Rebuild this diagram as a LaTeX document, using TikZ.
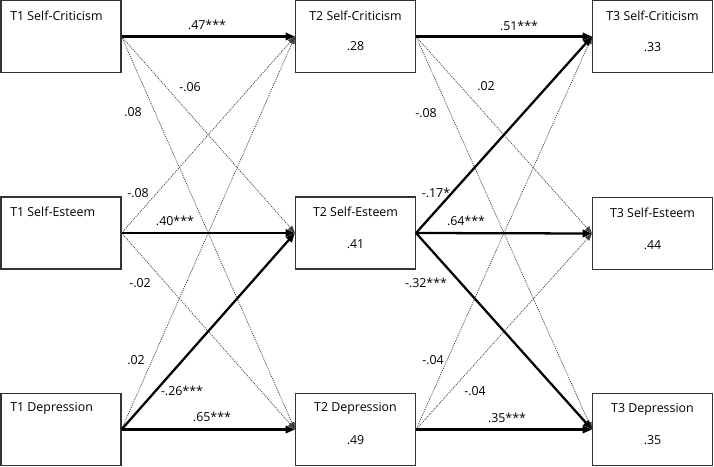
\documentclass[tikz,border=0pt]{standalone}
\usepackage{fontspec}
\setmainfont{Open Sans}
\usetikzlibrary{arrows.meta}

\tikzset{
  box/.style={draw=black!80, line width=0.8pt, minimum width=90pt, minimum height=54pt, inner sep=0pt},
  txt/.style={inner sep=0.75pt, font=\fontsize{9.3}{11}\selectfont},
  strong/.style={line width=1.7pt, -{Triangle[length=7pt,width=5.5pt]}},
  weak/.style={draw=black!75, line width=0.55pt, dash pattern=on 0.8pt off 0.8pt, -{Triangle[length=5.5pt,width=4pt]}}
}

\begin{document}
\begin{tikzpicture}[x=0.75pt,y=0.75pt,yscale=-1,xscale=1]
\useasboundingbox (0,0) rectangle (714,467);
% boxes
\node[box] (sc1) at (61,36.5) {};
\node[box] (se1) at (61,233) {};
\node[box] (dep1) at (61,429.5) {};
\node[box] (sc2) at (355.5,36.5) {};
\node[box] (se2) at (355.5,233) {};
\node[box] (dep2) at (355.5,429.5) {};
\node[box] (sc3) at (652.5,36.5) {};
\node[box] (se3) at (652.5,233.5) {};
\node[box] (dep3) at (652.5,429.5) {};
% box texts
\node[txt, anchor=west] (sc1t) at (9,16) {T1 Self-Criticism};
\node[txt, anchor=west] (se1t) at (9,212) {T1 Self-Esteem};
\node[txt, anchor=west] (dep1t) at (9,408) {T1 Depression};
\node[txt] (sc2t) at (355.5,16) {T2 Self-Criticism};
\node[txt] (sc2v) at (355.5,46) {.28};
\node[txt] (se2t) at (355.5,212) {T2 Self-Esteem};
\node[txt] (se2v) at (355.5,244) {.41};
\node[txt] (dep2t) at (355.5,408) {T2 Depression};
\node[txt] (dep2v) at (355.5,440) {.49};
\node[txt] (sc3t) at (652.5,16) {T3 Self-Criticism};
\node[txt] (sc3v) at (652.5,47) {.33};
\node[txt] (se3t) at (652.5,213) {T3 Self-Esteem};
\node[txt] (se3v) at (652.5,245) {.44};
\node[txt] (dep3t) at (652.5,409) {T3 Depression};
\node[txt] (dep3v) at (652.5,440) {.35};
% T1 -> T2
\draw[weak] (sc1.east) -- (se2.west);
\draw[weak] (sc1.east) -- (dep2.west);
\draw[weak] (se1.east) -- (sc2.west);
\draw[weak] (se1.east) -- (dep2.west);
\draw[weak] (dep1.east) -- (sc2.west);
\draw[strong] (sc1.east) -- (sc2.west);
\draw[strong] (se1.east) -- (se2.west);
\draw[strong] (dep1.east) -- (se2.west);
\draw[strong] (dep1.east) -- (dep2.west);
% T2 -> T3
\draw[weak] (sc2.east) -- (se3.west);
\draw[weak] (sc2.east) -- (dep3.west);
\draw[weak] (dep2.east) -- (sc3.west);
\draw[weak] (dep2.east) -- (se3.west);
\draw[strong] (sc2.east) -- (sc3.west);
\draw[strong] (se2.east) -- (sc3.west);
\draw[strong] (se2.east) -- (se3.west);
\draw[strong] (se2.east) -- (dep3.west);
\draw[strong] (dep2.east) -- (dep3.west);
% coefficients
\node[txt] (b1) at (207,25) {.47***};
\node[txt] (b2) at (190,87) {-.06};
\node[txt] (b3) at (133,112) {.08};
\node[txt] (b4) at (138,193) {-.08};
\node[txt] (b5) at (175,221) {.40***};
\node[txt] (b6) at (140,283) {-.02};
\node[txt] (b7) at (136,360) {.02};
\node[txt] (b8) at (182,391) {-.26***};
\node[txt] (b9) at (212,417) {.65***};
\node[txt] (c1) at (519,26) {.51***};
\node[txt] (c2) at (486,86) {.02};
\node[txt] (c3) at (426,113) {-.08};
\node[txt] (c4) at (436,193) {-.17*};
\node[txt] (c5) at (466,221) {.64***};
\node[txt] (c6) at (426,283) {-.32***};
\node[txt] (c7) at (433,360) {-.04};
\node[txt] (c8) at (475,391) {-.04};
\node[txt] (c9) at (507,418) {.35***};
\end{tikzpicture}
\end{document}
